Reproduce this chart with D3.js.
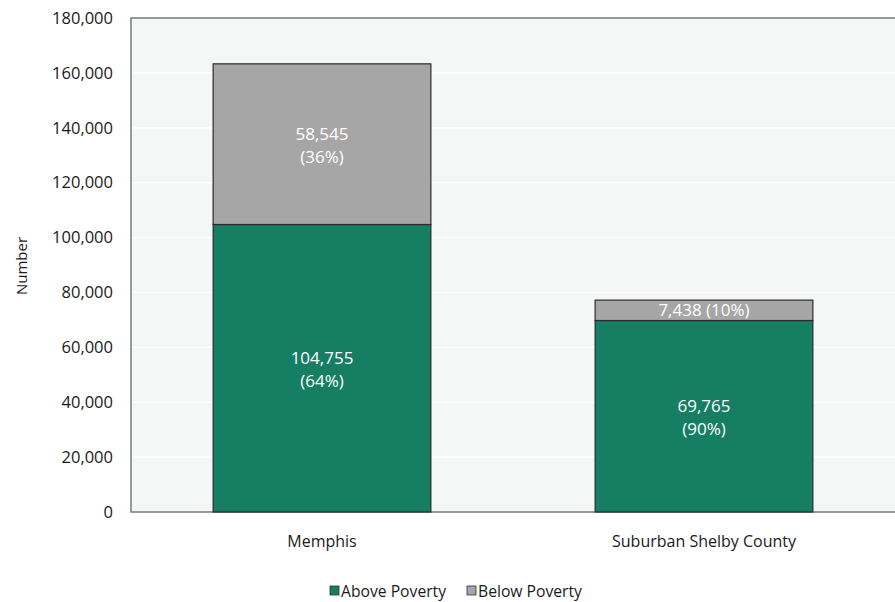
<!DOCTYPE html>
<html><head><meta charset="utf-8">
<script src="https://cdn.jsdelivr.net/npm/d3@7"></script>
<style>body{margin:0;background:#fff}svg{display:block;font-family:"Open Sans",sans-serif}</style>
</head><body>
<svg id="c" width="895" height="602"></svg>
<script>
const categories = ["Memphis", "Suburban Shelby County"];
const abovePoverty = [104755, 69765];
const belowPoverty = [58545, 7438];
const abovePct = ["64%", "90%"];
const belowPct = ["36%", "10%"];
const yTicks = [0,20000,40000,60000,80000,100000,120000,140000,160000,180000];
const seriesNames = ["Above Poverty", "Below Poverty"];
const colors = ["#167e63", "#a6a6a6"];

const FONT = "'Open Sans', sans-serif";
const svg = d3.select("#c");
const L = 131, R = 895, T = 18, B = 512;
const x = d3.scaleBand().domain(categories).range([L, R]).paddingInner(0.43).paddingOuter(0.215);
const y = d3.scaleLinear().domain([0, 180000]).range([B, T]);
const fmt = d3.format(",");

svg.append("rect").attr("x", L).attr("y", T).attr("width", R - L).attr("height", B - T).attr("fill", "#f5f7f6");
svg.append("g").selectAll("line").data(yTicks.slice(1, -1)).join("line")
  .attr("x1", L).attr("x2", R).attr("y1", d => y(d)).attr("y2", d => y(d))
  .attr("stroke", "#fff").attr("stroke-width", 1.2);

svg.append("path").attr("d", `M${R},${T}H${L}V${B}H${R}`).attr("fill", "none").attr("stroke", "#7a7a7a").attr("stroke-width", 1.5);

const yAxis = d3.axisLeft(y).tickValues(yTicks).tickFormat(fmt).tickSize(0).tickPadding(18);
const ga = svg.append("g").attr("transform", `translate(${L},0)`).call(yAxis);
ga.select(".domain").remove();
ga.selectAll("text").attr("font-size", 16.5).attr("fill", "#1a1a1a").attr("font-family", FONT);

const xAxis = d3.axisBottom(x).tickSize(0).tickPadding(24);
const gx = svg.append("g").attr("transform", `translate(0,${B})`).call(xAxis);
gx.select(".domain").remove();
gx.selectAll("text").attr("font-size", 16).attr("fill", "#1a1a1a").attr("font-family", FONT);

svg.append("text").attr("transform", `translate(27,${(T + B) / 2 + 1}) rotate(-90)`)
  .attr("text-anchor", "middle").attr("font-size", 15).attr("fill", "#1a1a1a").text("Number");

const data = categories.map((c, i) => ({c, a: abovePoverty[i], b: belowPoverty[i], ap: abovePct[i], bp: belowPct[i]}));
const g = svg.append("g");
data.forEach(d => {
  const x0 = x(d.c), w = x.bandwidth();
  g.append("rect").attr("x", x0).attr("width", w).attr("y", y(d.a)).attr("height", y(0) - y(d.a))
    .attr("fill", colors[0]).attr("stroke", "#2b2b2b").attr("stroke-width", 1.2);
  g.append("rect").attr("x", x0).attr("width", w).attr("y", y(d.a + d.b)).attr("height", y(d.a) - y(d.a + d.b))
    .attr("fill", colors[1]).attr("stroke", "#2b2b2b").attr("stroke-width", 1.2);
  const cx = x0 + w / 2;
  const ga = (y(d.a) + y(0)) / 2;
  const t1 = g.append("text").attr("x", cx).attr("text-anchor", "middle").attr("fill", "#fff").attr("font-size", 17);
  t1.append("tspan").attr("x", cx).attr("y", ga - 4).text(fmt(d.a));
  t1.append("tspan").attr("x", cx).attr("y", ga + 19).text(`(${d.ap})`);
  const gb = (y(d.a + d.b) + y(d.a)) / 2;
  const segH = y(d.a) - y(d.a + d.b);
  if (segH > 50) {
    const t2 = g.append("text").attr("text-anchor", "middle").attr("fill", "#fff").attr("font-size", 17);
    t2.append("tspan").attr("x", cx).attr("y", gb - 4).text(fmt(d.b));
    t2.append("tspan").attr("x", cx).attr("y", gb + 19).text(`(${d.bp})`);
  } else {
    g.append("text").attr("x", cx).attr("y", gb + 6).attr("text-anchor", "middle").attr("fill", "#fff").attr("font-size", 17)
      .text(`${fmt(d.b)} (${d.bp})`);
  }
});

const leg = svg.append("g");
const legX = [330, 467];
seriesNames.forEach((n, i) => {
  leg.append("rect").attr("x", legX[i]).attr("y", 586).attr("width", 9).attr("height", 9)
    .attr("fill", colors[i]).attr("stroke", "#333").attr("stroke-width", 0.8);
  leg.append("text").attr("x", legX[i] + 11).attr("y", 597).attr("font-size", 15.7).attr("fill", "#1a1a1a").text(n);
});
</script>
</body></html>
